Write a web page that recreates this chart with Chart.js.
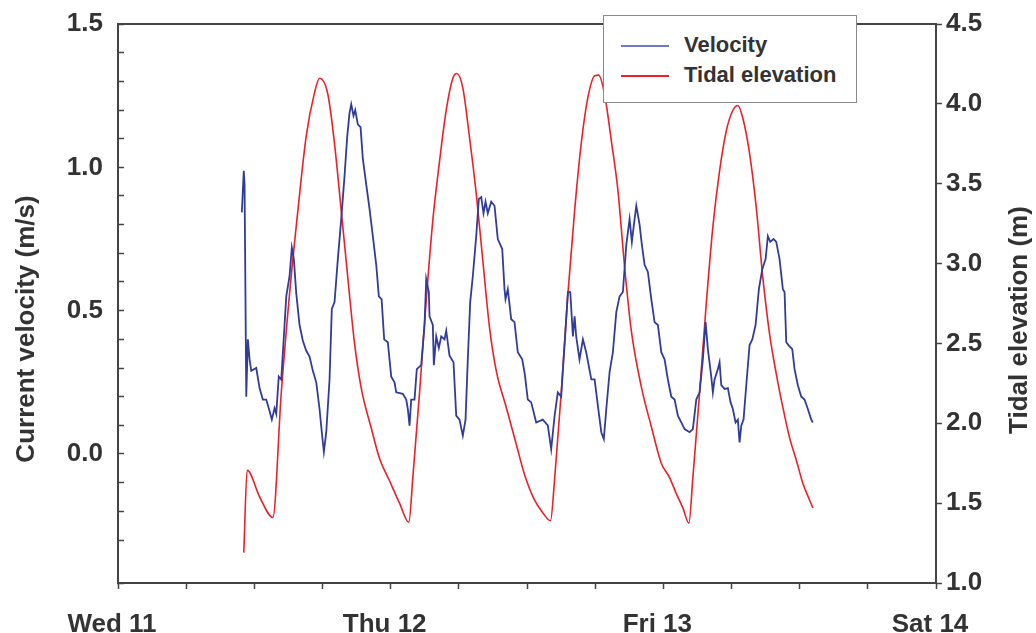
<!DOCTYPE html>
<html>
<head>
<meta charset="utf-8">
<title>Current velocity and tidal elevation</title>
<script src="https://cdn.jsdelivr.net/npm/chart.js@4.4.1/dist/chart.umd.min.js"></script>
<style>
  body { margin: 0; background: #fff; }
  #wrap { position: relative; width: 1036px; height: 633px; }
  #legend {
    position: absolute; left: 603px; top: 15px; width: 252px; height: 86px;
    border: 1.5px solid #8a8a8a; background: #fff;
    font: bold 22px "Liberation Sans", Arial, sans-serif; color: #333;
  }
  #legend .row { position: absolute; left: 17px; height: 30px; line-height: 30px; }
  #legend .sw { display: inline-block; width: 48px; height: 0; vertical-align: middle; margin-right: 15px; }
</style>
</head>
<body>
<div id="wrap">
  <canvas id="chart" width="1036" height="633"></canvas>
  <div id="legend"></div>
</div>
<script>
// hours since Wed 11 00:00
const dayLabels = ['Wed 11', 'Thu 12', 'Fri 13', 'Sat 14'];

const velocityHours = [10.90,11.07,11.14,11.29,11.43,11.58,11.73,12.17,12.46,12.75,13.05,13.34,13.54,13.78,13.93,14.15,14.37,14.66,14.81,15.10,15.30,15.48,15.69,15.98,16.27,16.57,16.86,17.15,17.45,17.74,17.94,18.12,18.33,18.62,18.82,19.06,19.35,19.65,19.94,20.18,20.38,20.53,20.73,20.88,21.11,21.35,21.55,21.85,22.14,22.43,22.73,22.96,23.20,23.43,23.75,24.05,24.34,24.49,25.07,25.37,25.51,25.66,25.81,26.10,26.30,26.69,26.98,27.13,27.36,27.42,27.71,27.80,28.01,28.24,28.45,28.74,28.89,29.18,29.53,29.77,30.06,30.35,30.59,30.79,31.00,31.23,31.53,31.76,31.97,32.17,32.35,32.55,32.85,33.14,33.43,33.82,34.02,34.11,34.31,34.61,34.90,35.19,35.58,35.80,36.07,36.37,36.81,37.39,37.83,38.13,38.42,38.71,39.01,39.45,39.60,39.81,40.04,40.19,40.33,40.62,40.92,41.21,41.66,41.95,42.24,42.54,42.76,42.98,43.27,43.56,43.86,44.15,44.44,44.74,45.03,45.23,45.41,45.62,45.91,46.11,46.35,46.64,46.94,47.23,47.52,47.82,48.11,48.40,48.70,48.99,49.28,49.58,49.87,50.31,50.60,50.90,51.19,51.48,51.72,51.92,52.22,52.36,52.51,52.80,52.95,53.10,53.39,53.68,53.92,54.12,54.36,54.56,54.71,54.86,55.06,55.30,55.59,55.83,56.12,56.41,56.71,57.00,57.20,57.41,57.70,57.94,58.23,58.52,58.67,58.82,59.05,59.35,59.55,59.84,60.14,60.43,60.72,61.02,61.16];
const velocityValues = [0.843,0.988,0.94,0.20,0.40,0.33,0.29,0.30,0.23,0.19,0.19,0.15,0.12,0.16,0.14,0.27,0.26,0.45,0.55,0.62,0.72,0.68,0.56,0.45,0.395,0.36,0.34,0.29,0.25,0.157,0.076,0.007,0.076,0.26,0.506,0.53,0.68,0.82,0.97,1.11,1.19,1.22,1.18,1.20,1.15,1.14,1.03,0.94,0.855,0.76,0.66,0.55,0.54,0.40,0.39,0.27,0.25,0.215,0.21,0.19,0.157,0.099,0.19,0.19,0.296,0.31,0.45,0.61,0.565,0.48,0.45,0.31,0.41,0.37,0.41,0.40,0.43,0.343,0.32,0.134,0.12,0.064,0.12,0.33,0.53,0.62,0.76,0.89,0.896,0.84,0.88,0.84,0.88,0.866,0.75,0.715,0.575,0.54,0.575,0.47,0.46,0.355,0.33,0.28,0.19,0.18,0.11,0.12,0.10,0.017,0.13,0.215,0.20,0.47,0.565,0.565,0.41,0.48,0.41,0.33,0.40,0.355,0.26,0.26,0.168,0.076,0.052,0.157,0.286,0.355,0.495,0.55,0.565,0.73,0.82,0.74,0.80,0.866,0.80,0.73,0.66,0.635,0.54,0.46,0.45,0.355,0.33,0.26,0.20,0.19,0.134,0.11,0.087,0.076,0.087,0.19,0.215,0.33,0.46,0.366,0.27,0.215,0.26,0.296,0.32,0.24,0.227,0.23,0.18,0.157,0.11,0.12,0.04,0.099,0.12,0.24,0.38,0.40,0.45,0.575,0.645,0.68,0.76,0.74,0.75,0.74,0.68,0.575,0.565,0.39,0.378,0.366,0.296,0.24,0.20,0.19,0.157,0.12,0.11];

const tideHours = [11.07,11.37,12.46,13.63,14.37,15.10,15.83,16.57,17.30,17.74,18.47,19.06,19.65,20.23,20.82,21.41,22.29,23.02,23.90,24.78,25.60,25.95,26.54,27.13,27.71,28.30,28.89,29.47,29.82,30.35,30.94,31.53,32.11,32.70,33.29,34.17,35.05,35.78,36.66,37.39,38.07,38.42,39.01,39.60,40.19,40.77,41.36,41.95,42.30,42.83,43.42,44.00,44.59,45.18,46.06,46.94,47.82,48.55,49.14,49.72,50.25,50.60,51.19,51.78,52.36,52.95,53.54,54.12,54.56,55.00,55.59,56.18,56.76,57.35,57.94,58.52,59.11,59.70,60.28,60.87,61.16];
const tideValues = [1.19,1.706,1.54,1.41,2.19,2.81,3.33,3.80,4.07,4.16,4.06,3.75,3.33,2.91,2.50,2.22,1.97,1.78,1.64,1.50,1.38,1.66,2.19,2.77,3.27,3.64,3.96,4.16,4.19,4.10,3.79,3.44,3.02,2.60,2.33,2.10,1.87,1.68,1.52,1.44,1.39,1.64,2.19,2.81,3.33,3.75,4.04,4.175,4.18,4.06,3.77,3.46,2.98,2.58,2.23,1.98,1.75,1.66,1.56,1.47,1.375,1.66,2.19,2.75,3.23,3.58,3.83,3.96,3.99,3.91,3.69,3.35,2.91,2.56,2.31,2.10,1.91,1.77,1.625,1.52,1.47];

const BLUE = '#2f3c9c';
const RED = '#ec2027';
const INK = '#333';
const AXIS = '#444';
const FONT = '"Liberation Sans", Arial, sans-serif';

const velocityPoints = velocityHours.map((h, i) => ({ x: h, y: velocityValues[i] }));
const tidePoints = tideHours.map((h, i) => ({ x: h, y: tideValues[i] }));

// top edge of the frame and the two rotated axis titles
const framePlugin = {
  id: 'frame',
  afterDraw(chart) {
    const { ctx, chartArea: a } = chart;
    ctx.save();
    ctx.strokeStyle = AXIS;
    ctx.lineWidth = 2;
    ctx.beginPath();
    ctx.moveTo(a.left, a.top);
    ctx.lineTo(a.right, a.top);
    ctx.stroke();

    ctx.fillStyle = INK;
    ctx.font = 'bold 26px ' + FONT;
    ctx.textAlign = 'center';
    ctx.textBaseline = 'middle';
    [['Current velocity (m/s)', 27, 329], ['Tidal elevation (m)', 1020, 320]].forEach(([t, x, y]) => {
      ctx.save();
      ctx.translate(x, y);
      ctx.rotate(-Math.PI / 2);
      ctx.fillText(t, 0, 0);
      ctx.restore();
    });
    ctx.restore();
  }
};

const tickFont = { family: FONT, size: 26, weight: 'bold' };

// fixed axis sizes so the plot box sits where the original one does
const fixWidth = w => s => { s.width = w; s.paddingTop = 0; s.paddingBottom = 0; };

new Chart(document.getElementById('chart'), {
  type: 'line',
  data: {
    datasets: [
      {
        label: 'Velocity',
        data: velocityPoints,
        yAxisID: 'yVel',
        borderColor: BLUE,
        borderWidth: 1.8,
        pointRadius: 0,
        tension: 0
      },
      {
        label: 'Tidal elevation',
        data: tidePoints,
        yAxisID: 'yTide',
        borderColor: RED,
        borderWidth: 1.6,
        pointRadius: 0,
        cubicInterpolationMode: 'monotone'
      }
    ]
  },
  options: {
    responsive: false,
    animation: false,
    devicePixelRatio: 1,
    layout: { padding: { top: 24, left: 0, right: 0, bottom: 0 } },
    plugins: { legend: { display: false }, tooltip: { enabled: false } },
    scales: {
      x: {
        type: 'linear',
        min: 0,
        max: 72,
        afterFit: s => { s.height = 50; s.paddingLeft = 0; s.paddingRight = 0; },
        ticks: {
          stepSize: 6,
          autoSkip: false,
          maxRotation: 0,
          padding: 20,
          labelOffset: -6,
          color: INK,
          font: tickFont,
          callback: v => (v % 24 === 0 ? dayLabels[v / 24] : '')
        },
        grid: { drawOnChartArea: false, tickLength: 6, tickColor: AXIS, tickWidth: 1.5 },
        border: { color: AXIS, width: 2 }
      },
      yVel: {
        position: 'left',
        min: -0.45,
        max: 1.5,
        afterFit: fixWidth(118),
        ticks: {
          stepSize: 0.1,
          autoSkip: false,
          padding: 21,
          color: INK,
          font: tickFont,
          callback: v => {
            const r = Math.round(v * 10) / 10;
            return Math.abs(r * 2 - Math.round(r * 2)) < 1e-6 && Math.abs(v - r) < 1e-6 ? r.toFixed(1) : '';
          }
        },
        grid: { drawOnChartArea: false, tickLength: -6, tickColor: AXIS, tickWidth: 1.5 },
        border: { color: AXIS, width: 2 }
      },
      yTide: {
        position: 'right',
        min: 1,
        max: 4.5,
        afterFit: fixWidth(100),
        ticks: {
          stepSize: 0.5,
          padding: 4,
          color: INK,
          font: tickFont,
          callback: v => v.toFixed(1)
        },
        grid: { drawOnChartArea: false, tickLength: 6, tickColor: AXIS, tickWidth: 1.5 },
        border: { color: AXIS, width: 2 }
      }
    }
  },
  plugins: [framePlugin]
});

// legend box built from the dataset labels
const legend = document.getElementById('legend');
[['Velocity', '#6f78c4', 14], ['Tidal elevation', RED, 44]].forEach(([label, color, top]) => {
  const row = document.createElement('div');
  row.className = 'row';
  row.style.top = top + 'px';
  row.innerHTML = '<span class="sw" style="border-top:2px solid ' + color + '"></span>' + label;
  legend.appendChild(row);
});
</script>
</body>
</html>
